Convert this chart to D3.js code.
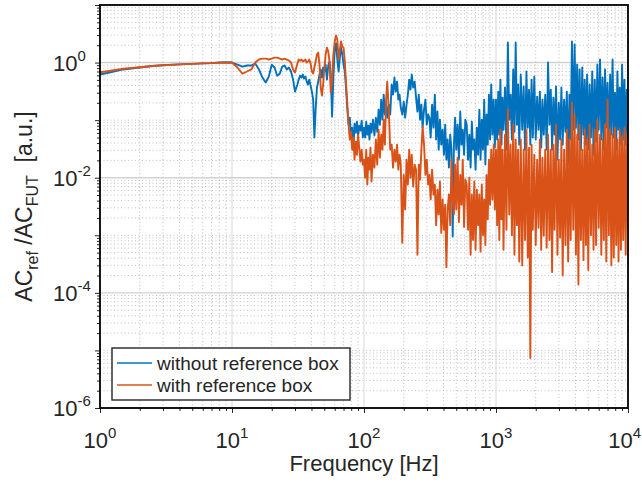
<!DOCTYPE html>
<html><head><meta charset="utf-8">
<script src="https://cdn.jsdelivr.net/npm/d3@7"></script>
<style>
body{margin:0;background:#fff}
svg{display:block}
text{font-family:"Liberation Sans",Arial,Helvetica,sans-serif;fill:#262626}
</style>
</head><body>
<svg id="chart" width="642" height="483"></svg>
<script>
// ---------- data ----------
const freqA = [1,1.2,1.5,2,2.5,3,4,5,6,7,8,9,10,11,12,13,14,15,16,17,18,19,20,21,22,23,24,25,26,27,28,29];
const blueA = [0.62,0.68,0.76,0.82,0.87,0.9,0.93,0.95,0.97,0.98,1.0,1.01,1.0,0.92,0.85,0.89,0.89,0.96,0.76,0.55,0.45,0.57,0.92,0.82,0.59,0.64,0.85,0.89,0.76,0.82,0.70,0.51];
const redA  = [0.68,0.72,0.78,0.83,0.87,0.9,0.93,0.95,0.97,0.98,0.99,0.99,1.0,0.82,0.64,0.70,0.76,1.0,1.13,1.17,1.17,1.13,1.17,1.22,1.22,1.17,1.13,1.17,1.13,1.08,1.0,0.76];

const freqB = [30.0,31.3,32.0,32.8,33.6,34.4,35.2,36.0,36.8,37.6,38.5,39.4,40.3,41.2,42.1,43.0,44.0,45.0,46.0,47.0,48.0,49.0,50.0,51.2,52.4,53.6,54.8,56.0,57.3,58.6,60.0,61.4,62.8,64.2,65.6,67.0,68.5,70.0,71.6,73.2,74.8,76.4,78.0,79.7,81.4,83.1,84.8,86.6,88.4,90.2,92.0,94.0,96.0,98.0];
const blueB = [0.313,0.415,0.506,0.594,0.549,0.619,0.527,0.571,0.467,0.415,
  0.506,0.398,0.313,0.227,0.050,0.152,0.368,0.467,0.619,0.756,
  0.549,0.819,0.698,0.923,0.506,0.887,1.04,0.619,0.115,0.549,
  1.68,2.14,1.13,0.698,1.22,1.82,1.38,0.923,0.698,0.339,
  0.152,0.0835,0.110,0.056,0.074,0.0307,0.087,0.0607,0.094,
  0.052,0.080,0.066,0.098,0.050];
const redB = [0.670,0.96,1.13,1.08,1.13,1.04,1.08,1.13,1.0,1.04,
  1.13,0.96,0.698,0.644,0.819,1.04,1.38,1.49,0.923,0.368,
  0.267,0.415,0.756,1.38,1.82,1.55,1.04,0.301,0.506,1.38,
  2.32,2.95,2.51,1.13,1.68,2.32,1.90,1.82,1.04,0.415,
  0.186,0.0835,0.046,0.063,0.0307,0.050,0.0206,0.0424,0.0251,
  0.056,0.0333,0.019,0.0307,0.0169];

const freqC = [100,102,104,106,108,110,112,114,117,120,123,126,129,132,135,138,141,144,147,150,
  154,158,162,166,170,174,178,182,186,190,195,200,205,210,215,220,225,230,236,242,
  248,254,260,266,272,278,285,292,299,306,313,320,328,336,344,352,360,368,376,385,
  394,403,412,421,430,440,450,460,470,480,490,500,512,524,536,548,560,573,586,
  600,614,628,642,656,670,685,700,716,732,748,764,780,797,814,831,848,866,884,902,
  920,940,960,980];
const blueC = [0.074,0.050,0.094,0.056,0.080,0.046,0.087,0.0607,0.102,0.054,
  0.110,0.063,0.152,0.0835,0.227,0.102,0.278,0.125,0.194,0.110,
  0.186,0.125,0.415,0.278,0.549,0.313,0.467,0.227,0.278,0.165,
  0.125,0.210,0.110,0.186,0.278,0.506,0.339,0.619,0.368,0.467,
  0.246,0.141,0.278,0.102,0.186,0.074,0.152,0.227,0.0835,0.125,
  0.110,0.050,0.186,0.074,0.278,0.046,0.141,0.0307,0.102,0.0375,
  0.068,0.0251,0.0835,0.0206,0.046,0.0150,0.056,0.0307,0.00095,0.0375,
  0.110,0.0307,0.0835,0.0206,0.141,0.0375,0.068,0.0251,0.102,
  0.0835,0.0206,0.056,0.0150,0.094,0.0307,0.046,0.0138,0.074,0.0251,
  0.152,0.0206,0.102,0.0307,0.227,0.0169,0.125,0.0375,0.278,0.046,
  0.415,0.056,0.227,0.0333];
const redC = [0.0206,0.0100,0.0307,0.0076,0.0223,0.0138,0.0333,0.0086,0.0251,0.0150,
  0.046,0.0169,0.068,0.0223,0.056,0.0307,0.102,0.0375,0.227,0.467,
  0.152,0.0307,0.0375,0.0150,0.0307,0.019,0.0375,0.0138,0.0251,0.0169,
  0.00074,0.0112,0.0028,0.0206,0.0076,0.0307,0.0100,0.0251,0.0070,0.0169,
  0.0138,0.00046,0.0169,0.0093,0.0307,0.077,0.0375,0.0112,0.0206,0.0076,
  0.0112,0.0042,0.0138,0.0051,0.0076,0.0015,0.0062,0.0023,0.0086,0.0011,
  0.0042,0.00125,0.0034,0.00028,0.0028,0.0051,0.0015,0.0206,0.0042,0.0023,
  0.0169,0.0028,0.0223,0.0017,0.0112,0.0034,0.0206,0.0014,0.0093,
  0.0076,0.00125,0.0100,0.00046,0.0051,0.00083,0.0086,0.00056,0.0062,0.0015,
  0.0051,0.00052,0.0076,0.0010,0.0042,0.00068,0.0112,0.0019,0.0206,0.0034,
  0.0307,0.0042,0.0375,0.0028];

const freqD = [1000,1020,1040,1060,1080,1100,1120,1140,1170,1200,1230,1260,1290,1320,1350,1380,1410,1440,1470,1500,
  1540,1580,1620,1660,1700,1740,1780,1820,1860,1900,1950,2000,2050,2100,2150,2200,2250,2300,2360,2420,
  2480,2540,2600,2660,2720,2780,2850,2920,2990,3060,3130,3200,3280,3360,3440,3520,3600,3680,3760,3850,
  3940,4030,4120,4210,4300,4400,4500,4600,4700,4800,4900,5000,5120,5240,5360,5480,5600,5730,5860,
  6000,6140,6280,6420,6560,6700,6850,7000,7160,7320,7480,7640,7800,7970,8140,8310,8480,8660,8840,9020,
  9200,9400,9600,9800,10000];
const blueD = [0.227,0.046,0.313,0.056,0.506,0.0375,0.246,0.068,0.368,0.0307,
  2.23,0.102,0.278,0.046,0.756,0.063,2.23,0.0835,0.415,0.0375,
  0.619,0.068,0.383,0.0307,0.698,0.074,0.339,0.0375,0.506,0.050,
  0.571,0.046,0.256,0.068,0.313,0.0333,0.227,0.056,0.278,0.0307,
  1.0,0.0835,0.339,0.0307,0.246,0.056,0.383,0.0206,0.201,0.046,
  0.368,0.0375,0.227,0.063,0.313,0.0169,0.278,0.046,2.32,0.068,
  2.06,0.074,0.923,0.046,0.756,0.0307,0.819,0.056,0.506,0.0375,
  0.619,0.0307,0.415,0.050,0.698,0.0251,0.506,0.0424,0.923,0.068,
  1.13,0.046,0.549,0.0307,0.756,0.074,0.449,0.0375,0.619,0.056,
  1.13,0.050,0.301,0.0307,0.698,0.068,0.368,0.0375,0.923,0.046,
  0.506,0.0375,0.339,0.056];
const redD = [0.0307,0.0015,0.046,0.00083,0.068,0.0019,0.0307,0.00056,0.056,0.00125,
  0.152,0.0023,0.0375,0.0010,0.0835,0.00046,0.046,0.0015,0.0307,0.00035,
  0.046,0.0003,0.0307,0.00083,0.068,0.00041,0.0333,0.0000074,0.0375,0.00125,
  0.0251,0.00068,0.0206,0.00135,0.046,0.00056,0.0223,0.00098,0.0307,0.00061,
  0.056,0.00083,0.0307,0.00023,0.0375,0.00125,0.0835,0.00046,0.0206,0.00091,
  0.046,0.0002,0.0307,0.00068,0.068,0.00035,0.046,0.00083,0.201,0.00125,
  0.125,0.00046,0.056,0.00014,0.0835,0.00083,0.0307,0.00037,0.068,0.00068,
  0.046,0.00025,0.0835,0.0010,0.0375,0.00056,0.068,0.00068,0.102,0.00135,
  0.056,0.00046,0.046,0.00083,0.0835,0.00035,0.227,0.0010,0.068,0.0003,
  0.056,0.00041,0.074,0.00068,0.046,0.00035,0.068,0.00056,0.052,0.00083,
  0.074,0.00046,0.056,0.00125];

const seriesNames = ["without reference box","with reference box"];
const xTickLabels = [["10","0"],["10","1"],["10","2"],["10","3"],["10","4"]];
const yTickLabels = [["10","-6"],["10","-4"],["10","-2"],["10","0"]];

// ---------- setup ----------
const W = 642, H = 483;
const L = 100, R = 628, T = 5, B = 408;
const svg = d3.select("#chart");
svg.append("rect").attr("width",W).attr("height",H).attr("fill","#fff");

const x = d3.scaleLog().domain([1,1e4]).range([L,R]);
const y = d3.scaleLog().domain([1e-6,10]).range([B,T]);

const xMajor = [1,10,100,1000,10000];
const yMajorLab = [1e-6,1e-4,1e-2,1];
const yDecades = [1e-6,1e-5,1e-4,1e-3,1e-2,1e-1,1,10];
const xMinor = [], yMinor = [];
[1,10,100,1000].forEach(d => { for (let m=2;m<=9;m++) xMinor.push(m*d); });
[1e-6,1e-5,1e-4,1e-3,1e-2,1e-1,1].forEach(d => { for (let m=2;m<=9;m++) yMinor.push(m*d); });
const yMinorGrid = yMinor.concat([1e-5,1e-3,1e-1]);

// grid
const grid = svg.append("g");
grid.selectAll(".gxm").data(xMinor).join("line")
  .attr("x1",d=>x(d)).attr("x2",d=>x(d)).attr("y1",T).attr("y2",B)
  .attr("stroke","#b0b0b0").attr("stroke-width",0.8).attr("stroke-dasharray","1,2.5");
grid.selectAll(".gym").data(yMinorGrid).join("line")
  .attr("y1",d=>y(d)).attr("y2",d=>y(d)).attr("x1",L).attr("x2",R)
  .attr("stroke","#b0b0b0").attr("stroke-width",0.8).attr("stroke-dasharray","1,2.5");
grid.selectAll(".gxM").data(xMajor).join("line")
  .attr("x1",d=>x(d)).attr("x2",d=>x(d)).attr("y1",T).attr("y2",B)
  .attr("stroke","#d8d8d8").attr("stroke-width",1);
grid.selectAll(".gyM").data(yMajorLab).join("line")
  .attr("y1",d=>y(d)).attr("y2",d=>y(d)).attr("x1",L).attr("x2",R)
  .attr("stroke","#d2d2d2").attr("stroke-width",1.4);

// data lines
const freq = freqA.concat(freqB, freqC, freqD);
const blue = blueA.concat(blueB, blueC, blueD);
const red = redA.concat(redB, redC, redD);
const n = Math.min(freq.length, blue.length, red.length);
const ptsBlue = [], ptsRed = [];
for (let i=0;i<n;i++){ ptsBlue.push([freq[i],blue[i]]); ptsRed.push([freq[i],red[i]]); }

svg.append("clipPath").attr("id","clip").append("rect").attr("x",L).attr("y",T).attr("width",R-L).attr("height",B-T);
const line = d3.line().x(d=>x(d[0])).y(d=>y(d[1]));
const plot = svg.append("g").attr("clip-path","url(#clip)");
plot.append("path").datum(ptsBlue).attr("d",line).attr("fill","none")
  .attr("stroke","#0072BD").attr("stroke-width",1.9).attr("stroke-linejoin","round");
plot.append("path").datum(ptsRed).attr("d",line).attr("fill","none")
  .attr("stroke","#D95319").attr("stroke-width",1.9).attr("stroke-linejoin","round");

// axes ticks
const ax = svg.append("g");
function clean(g){ g.select(".domain").remove(); g.selectAll("line").attr("stroke","#262626"); }
ax.append("g").attr("transform",`translate(0,${B})`)
  .call(d3.axisBottom(x).tickValues(xMajor).tickSize(5).tickSizeOuter(0).tickFormat("")).call(clean);
ax.append("g").attr("transform",`translate(0,${B})`)
  .call(d3.axisBottom(x).tickValues(xMinor).tickSize(3).tickSizeOuter(0).tickFormat("")).call(clean);
ax.append("g").attr("transform",`translate(${L},0)`)
  .call(d3.axisLeft(y).tickValues(yDecades).tickSize(5).tickSizeOuter(0).tickFormat("")).call(clean);
ax.append("g").attr("transform",`translate(${L},0)`)
  .call(d3.axisLeft(y).tickValues(yMinor).tickSize(3).tickSizeOuter(0).tickFormat("")).call(clean);

// frame
svg.append("rect").attr("x",L).attr("y",T).attr("width",R-L).attr("height",B-T)
  .attr("fill","none").attr("stroke","#000").attr("stroke-width",1.8);

// x tick labels (last one kept inside the page edge)
xMajor.forEach((v,i)=>{
  const last = i === xMajor.length-1;
  const t = svg.append("text").attr("x", last ? 641 : x(v)).attr("y",448)
    .attr("text-anchor", last ? "end" : "middle").attr("font-size",22);
  t.append("tspan").text(xTickLabels[i][0]);
  t.append("tspan").attr("dy",-10).attr("font-size",15).text(xTickLabels[i][1]);
});
// y tick labels
yMajorLab.forEach((v,i)=>{
  const t = svg.append("text").attr("x",53).attr("y",y(v)+8).attr("font-size",22);
  t.append("tspan").text(yTickLabels[i][0]);
  t.append("tspan").attr("dy",-10).attr("font-size",15).text(yTickLabels[i][1]);
});

// axis titles
svg.append("text").attr("x",(L+R)/2).attr("y",471).attr("text-anchor","middle").attr("font-size",22).text("Frequency [Hz]");
const yt = svg.append("text").attr("transform",`translate(32,${(T+B)/2}) rotate(-90)`)
  .attr("text-anchor","middle").attr("font-size",23).style("white-space","pre");
yt.append("tspan").text("AC");
yt.append("tspan").attr("dy",6).attr("font-size",16).text("ref");
yt.append("tspan").attr("dy",-6).text(" /AC");
yt.append("tspan").attr("dy",6).attr("font-size",16).text("FUT");
yt.append("tspan").attr("dy",-6).text("  [a.u.]");

// legend
const lg = svg.append("g");
lg.append("rect").attr("x",112).attr("y",348).attr("width",238).attr("height",52)
  .attr("fill","#fff").attr("stroke","#262626").attr("stroke-width",1.4);
const legColors = ["#0072BD","#D95319"];
seriesNames.forEach((s,i)=>{
  const yy = 363 + i*22;
  lg.append("line").attr("x1",117).attr("x2",152).attr("y1",yy).attr("y2",yy)
    .attr("stroke",legColors[i]).attr("stroke-width",1.6);
  lg.append("text").attr("x",157).attr("y",yy+7).attr("font-size",19).attr("fill","#000").text(s);
});
</script>
</body></html>
